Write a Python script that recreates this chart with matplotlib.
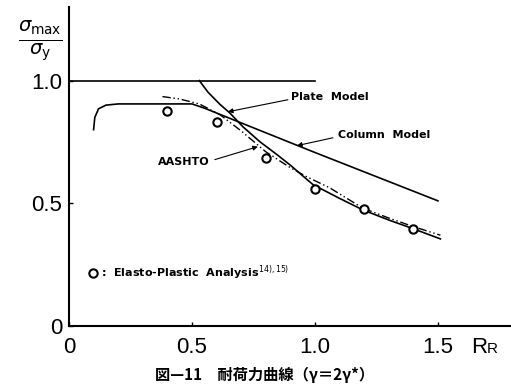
import matplotlib.pyplot as plt

# ultimate strength curves vs. R_R
flat_x = [0.0, 1.0]
flat_y = [1.0, 1.0]

plate_x = [0.53, 0.565, 0.614, 0.654, 0.707, 0.776, 0.846, 0.898, 0.992, 1.10, 1.195, 1.30, 1.40, 1.51]
plate_y = [1.0, 0.953, 0.903, 0.868, 0.812, 0.751, 0.698, 0.657, 0.576, 0.52, 0.473, 0.432, 0.396, 0.355]

column_x = [0.10, 0.105, 0.12, 0.15, 0.20, 0.50, 0.55, 1.0, 1.5]
column_y = [0.80, 0.85, 0.885, 0.90, 0.905, 0.905, 0.888, 0.707, 0.51]

aashto_x = [0.38, 0.45, 0.53, 0.614, 0.70, 0.80, 0.90, 0.967, 1.06, 1.195, 1.30, 1.40, 1.51]
aashto_y = [0.935, 0.925, 0.905, 0.861, 0.795, 0.71, 0.645, 0.608, 0.563, 0.48, 0.44, 0.405, 0.37]

# elasto-plastic analysis results
fem_x = [0.4, 0.6, 0.8, 1.0, 1.2, 1.4]
fem_y = [0.875, 0.83, 0.685, 0.56, 0.475, 0.395]

xticks = [0, 0.5, 1.0, 1.5]
xtick_labels = ['0', '0.5', '1.0', '1.5']
yticks = [0, 0.5, 1.0]
ytick_labels = ['0', '0.5', '1.0']

num_font = ['Liberation Sans', 'DejaVu Sans']

fig = plt.figure(figsize=(5.11, 3.89), dpi=100)
ax = fig.add_axes([0.135, 0.162, 0.865, 0.82])

ax.plot(flat_x, flat_y, color='black', lw=1.2)
ax.plot(plate_x, plate_y, color='black', lw=1.2)
ax.plot(column_x, column_y, color='black', lw=1.2)
ax.plot(aashto_x, aashto_y, color='black', lw=1.0, linestyle=(0, (6, 2, 1, 2, 1, 2)))
ax.plot(fem_x, fem_y, linestyle='none', marker='o', ms=6, mfc='white', mec='black', mew=1.5)

ax.set_xlim(0, 1.797)
ax.set_ylim(0, 1.30)
ax.spines['top'].set_visible(False)
ax.spines['right'].set_visible(False)
ax.spines['left'].set_linewidth(1.5)
ax.spines['bottom'].set_linewidth(1.5)

ax.set_xticks(xticks)
ax.set_xticklabels(xtick_labels, family=num_font, fontsize=16)
ax.set_yticks(yticks)
ax.set_yticklabels(ytick_labels, family=num_font, fontsize=16)
ax.tick_params(direction='in', length=3, width=1)
ax.tick_params(axis='x', pad=8)
ax.tick_params(axis='y', pad=5)

lbl = dict(fontsize=8, fontweight='bold', color='black')
arrow = dict(arrowstyle='-|>', lw=0.8, color='black', mutation_scale=7, shrinkA=0, shrinkB=0)

ax.annotate('', xy=(0.646, 0.873), xytext=(0.89, 0.922), arrowprops=arrow)
ax.text(0.902, 0.935, 'Plate  Model', va='center', ha='left', **lbl)

ax.annotate('', xy=(0.927, 0.735), xytext=(1.073, 0.767), arrowprops=arrow)
ax.text(1.093, 0.78, 'Column  Model', va='center', ha='left', **lbl)

ax.annotate('', xy=(0.768, 0.731), xytext=(0.593, 0.678), arrowprops=arrow)
ax.text(0.573, 0.67, 'AASHTO', va='center', ha='right', **lbl)

ax.plot([0.098], [0.216], linestyle='none', marker='o', ms=6, mfc='white', mec='black', mew=1.5)
ax.text(0.13, 0.216, ':  Elasto-Plastic  Analysis$^{14),15)}$', va='center', ha='left', **lbl)

# axis titles
fig.text(0.078, 0.895, r'$\frac{\sigma_{\rm max}}{\sigma_{\rm y}}$', fontsize=20, ha='center', va='center')
fig.text(0.922, 0.093, 'R', family=num_font, fontsize=16, ha='left', va='baseline')
fig.text(0.953, 0.093, 'R', family=num_font, fontsize=11, ha='left', va='baseline')

fig.text(0.517, 0.036, '図—11　耐荷力曲線（γ＝2γ*）',
         family=['Noto Sans CJK JP', 'DejaVu Sans'], fontsize=11, fontweight='bold',
         ha='center', va='center')

fig.savefig('out.png', dpi=100)
